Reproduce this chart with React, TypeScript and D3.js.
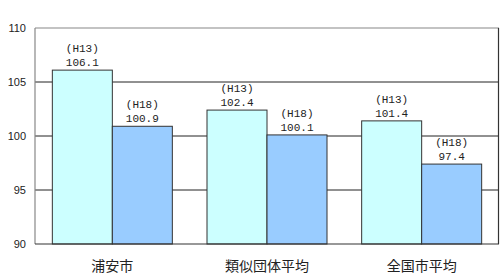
import React from "react";
import * as d3 from "d3";

const categories = ["浦安市", "類似団体平均", "全国市平均"];
const seriesNames = ["(H13)", "(H18)"];
const h13Values = [106.1, 102.4, 101.4];
const h18Values = [100.9, 100.1, 97.4];
const yTicks = [90, 95, 100, 105, 110];
const colors = ["#CCFFFF", "#99CCFF"];

const W = 500, H = 277;
const m = { left: 35, right: 1, top: 28, bottom: 33 };

export default function App() {
  const x = d3.scaleBand<string>().domain(categories).range([m.left, W - m.right]).paddingInner(0).paddingOuter(0);
  const y = d3.scaleLinear().domain([90, 110]).range([H - m.bottom, m.top]);
  const barW = 60;
  const series = [h13Values, h18Values];
  return (
    <svg width={W} height={H} style={{ position: "absolute", left: 0, top: 0, background: "#fff" }}>
      {yTicks.map((t) => (
        <g key={t}>
          {t !== 90 && t !== 110 && (
            <line x1={m.left} x2={W - m.right} y1={y(t)} y2={y(t)} stroke="#222" strokeWidth={1} />
          )}
          <text x={m.left - 9} y={y(t) + 4} textAnchor="end" fontFamily="Liberation Sans, Arial, sans-serif" fontSize={11} fill="#222">
            {t}
          </text>
        </g>
      ))}
      <line x1={m.left} x2={W - m.right} y1={y(110)} y2={y(110)} stroke="#888" strokeWidth={1.2} />
      <line x1={m.left} x2={m.left} y1={y(110)} y2={y(90)} stroke="#888" strokeWidth={1.2} />
      <line x1={W - m.right - 0.5} x2={W - m.right - 0.5} y1={y(110)} y2={y(90)} stroke="#333" strokeWidth={1.2} />
      {categories.map((c, ci) => {
        const cx = (x(c) as number) + x.bandwidth() / 2;
        return (
          <g key={c}>
            {series.map((vals, si) => {
              const bx = cx - barW + si * barW;
              const v = vals[ci];
              return (
                <g key={si}>
                  <rect x={bx} y={y(v)} width={barW} height={y(90) - y(v)} fill={colors[si]} stroke="#333" strokeWidth={1} />
                  <text x={bx + barW / 2} y={y(v) - 18} textAnchor="middle" fontFamily="Liberation Mono, monospace" fontSize={11} fill="#222">
                    {seriesNames[si]}
                  </text>
                  <text x={bx + barW / 2} y={y(v) - 4} textAnchor="middle" fontFamily="Liberation Mono, monospace" fontSize={11} fill="#222">
                    {v.toFixed(1)}
                  </text>
                </g>
              );
            })}
            <text x={cx} y={H - 6} textAnchor="middle" fontFamily="Noto Sans CJK JP, sans-serif" fontSize={14} fill="#222">
              {c}
            </text>
          </g>
        );
      })}
      <line x1={m.left} x2={W - m.right} y1={y(90)} y2={y(90)} stroke="#333" strokeWidth={1.2} />
    </svg>
  );
}
